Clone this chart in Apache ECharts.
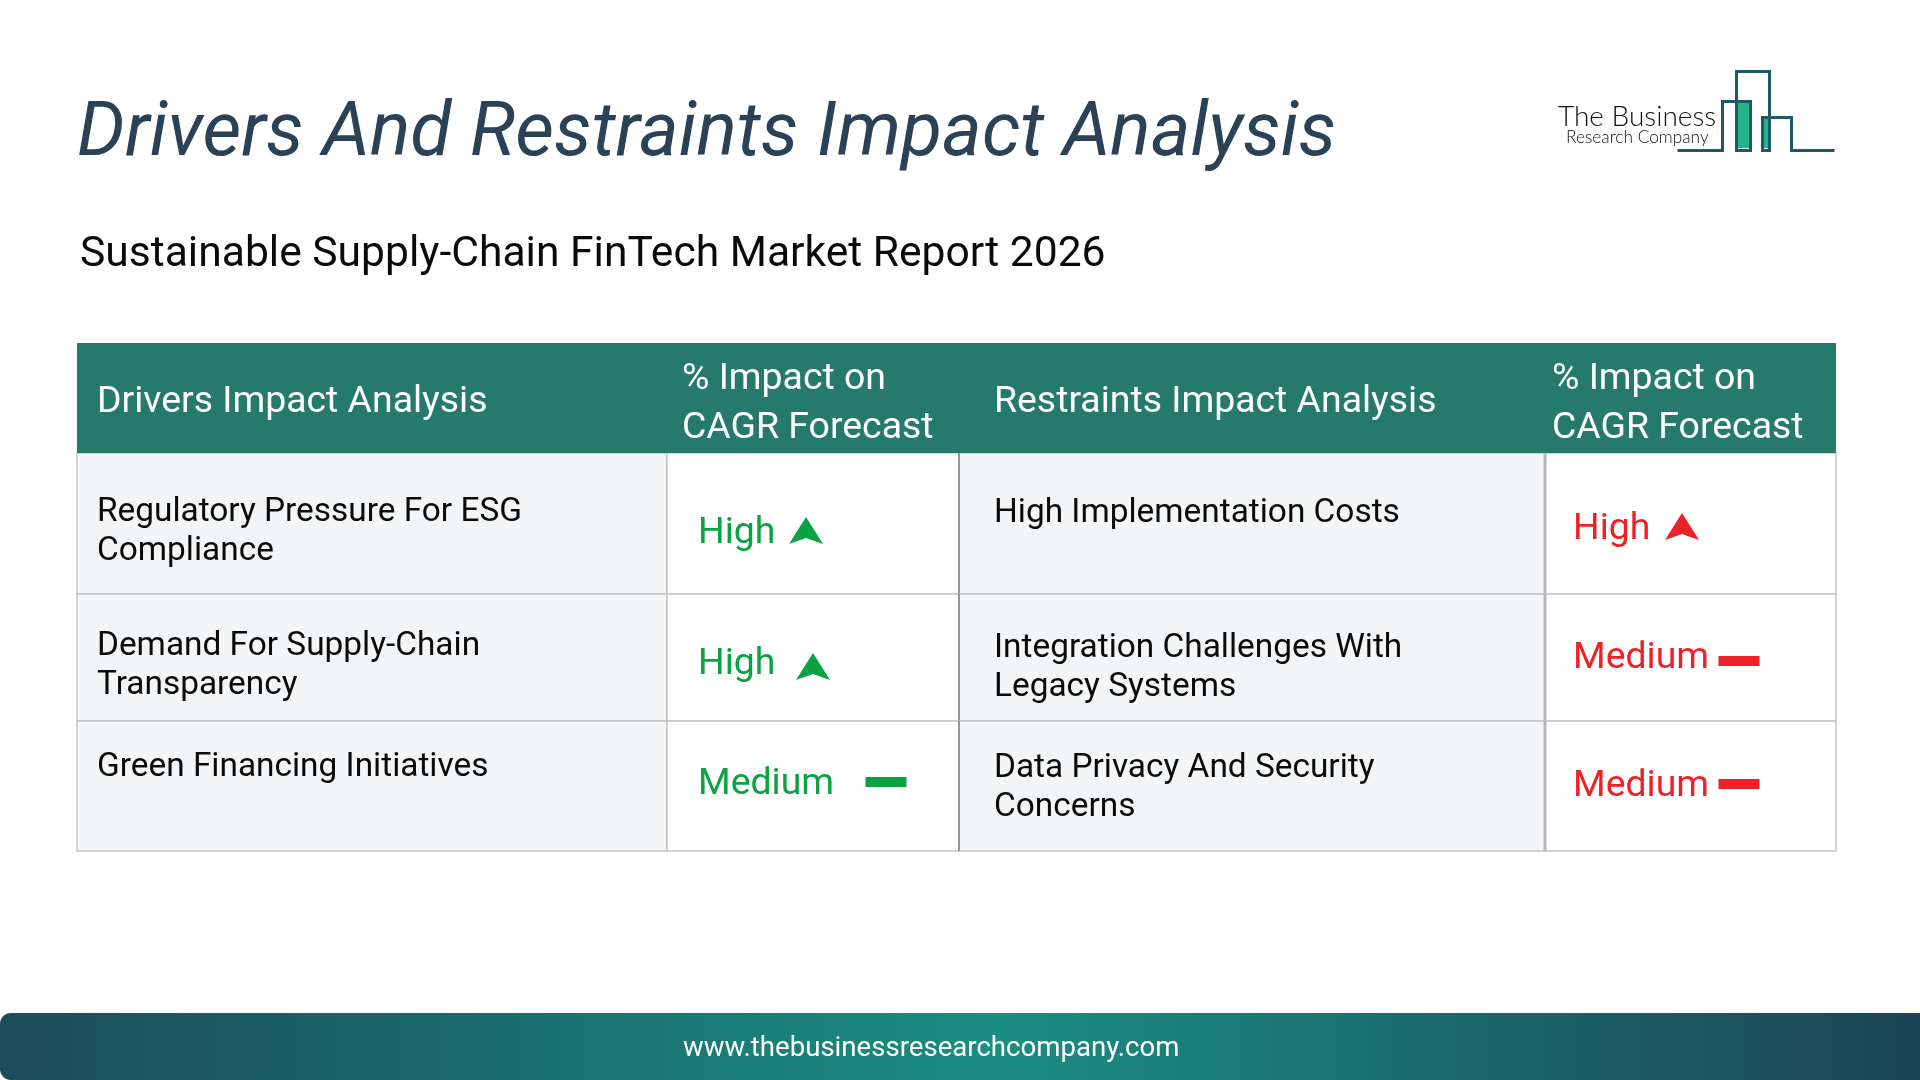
<!DOCTYPE html>
<html lang="en">
<head>
    <meta charset="UTF-8">
    <title>Drivers And Restraints Impact Analysis</title>
    <script src="https://cdn.jsdelivr.net/npm/echarts@6/dist/echarts.min.js"></script>
    <style>
        html, body { margin: 0; padding: 0; background: #fff; }
        #chartmain { width: 1920px; height: 1080px; }
    </style>
</head>
<body>
<div id="chartmain"></div>
<script type="text/javascript">
    // table content
    var headers = ['Drivers Impact Analysis', '% Impact on\nCAGR Forecast', 'Restraints Impact Analysis', '% Impact on\nCAGR Forecast'];
    var drivers = ['Regulatory Pressure For ESG\nCompliance', 'Demand For Supply-Chain\nTransparency', 'Green Financing Initiatives'];
    var driverImpact = ['High', 'High', 'Medium'];
    var restraints = ['High Implementation Costs', 'Integration Challenges With\nLegacy Systems', 'Data Privacy And Security\nConcerns'];
    var restraintImpact = ['High', 'Medium', 'Medium'];

    // table layout, in px from the table's top left corner
    var colEdges = [0, 590, 882, 1468, 1759];
    var rowEdges = [0, 110, 251, 378, 508];
    var textPad = [20, 31, 35, 28];
    var headerPad = [20, 15, 35, 7];
    var headerMid = [60, 61, 60, 61];
    var textMid = [[189, 323, 425], [191, 322, 442], [171, 325, 445], [187, 316, 444]];
    var markX = [[729, 736, 809], [1605, 1662, 1662]];
    var markY = [[188, 324, 439], [184, 318, 441]];

    var GREEN = '#0ba243', RED = '#ee2226';

    var cells = [];
    [drivers, driverImpact, restraints, restraintImpact].forEach(function (list, col) {
        list.forEach(function (txt, i) { cells.push({ col: col, row: i + 1, text: txt }); });
    });
    headers.forEach(function (txt, col) { cells.push({ col: col, row: 0, text: txt }); });

    function drawCell(params, api) {
        var c = cells[params.dataIndex];
        var a = api.coord([colEdges[c.col], rowEdges[c.row]]);
        var b = api.coord([colEdges[c.col + 1], rowEdges[c.row + 1]]);
        var kids = [];
        var isHead = c.row === 0;
        var isImpact = c.col % 2 === 1;
        kids.push({
            type: 'rect',
            shape: { x: a[0], y: a[1], width: b[0] - a[0], height: b[1] - a[1] },
            style: isHead ? { fill: '#257a6b' } : { fill: isImpact ? '#ffffff' : '#f3f5f7', stroke: '#c3c5c8', lineWidth: 1.5 }
        });
        if (!isHead && c.col === 2) {
            kids.push({ type: 'line', shape: { x1: a[0], y1: a[1], x2: a[0], y2: b[1] }, style: { stroke: '#7f8285', lineWidth: 1.5 } });
        }
        if (!isHead && c.col === 3) {
            kids.push({ type: 'line', shape: { x1: a[0], y1: a[1], x2: a[0], y2: b[1] }, style: { stroke: '#b4b6b9', lineWidth: 3 } });
        }
        var color = isHead ? '#ffffff' : (isImpact ? (c.col === 1 ? GREEN : RED) : '#0a0a0a');
        var midY = isHead ? headerMid[c.col] : textMid[c.col][c.row - 1];
        var pad = isHead ? headerPad[c.col] : textPad[c.col];
        var mid = api.coord([colEdges[c.col] + pad, midY]);
        kids.push({
            type: 'text',
            style: {
                x: mid[0], y: mid[1], text: c.text, fill: color,
                font: (isHead || isImpact ? 37.4 : 33.4) + 'px Roboto',
                lineHeight: isHead ? 49 : 39,
                textAlign: 'left', textVerticalAlign: 'middle'
            }
        });
        if (!isHead && isImpact) {
            var side = (c.col - 1) / 2;
            var m = api.coord([markX[side][c.row - 1], markY[side][c.row - 1]]);
            if (c.text === 'High') {
                kids.push({
                    type: 'polygon',
                    shape: { points: [[m[0], m[1] - 14], [m[0] + 17, m[1] + 13], [m[0], m[1] + 7], [m[0] - 17, m[1] + 13]] },
                    style: { fill: color }
                });
            } else {
                kids.push({ type: 'rect', shape: { x: m[0] - 20.5, y: m[1] - 5, width: 41, height: 10 }, style: { fill: color } });
            }
        }
        return { type: 'group', children: kids };
    }

    var option = {
        animation: false,
        backgroundColor: '#ffffff',
        title: [
            { text: 'Drivers And Restraints Impact Analysis', left: 77, top: 96, padding: 0,
              textStyle: { color: '#2b4156', fontFamily: 'Roboto', fontStyle: 'italic', fontWeight: 'normal', fontSize: 75.4, lineHeight: 80 } },
            { text: 'Sustainable Supply-Chain FinTech Market Report 2026', left: 80, top: 230, padding: 0,
              textStyle: { color: '#0a0a0a', fontFamily: 'Roboto', fontWeight: 'normal', fontSize: 42.6, lineHeight: 50 } }
        ],
        grid: { left: 77, top: 343, width: 1759, height: 508 },
        xAxis: { type: 'value', min: 0, max: 1759, show: false },
        yAxis: { type: 'value', min: 0, max: 508, inverse: true, show: false },
        series: [{
            type: 'custom',
            coordinateSystem: 'cartesian2d',
            silent: true,
            clip: false,
            data: cells.map(function (c) { return [colEdges[c.col], rowEdges[c.row]]; }),
            renderItem: drawCell
        }],
        graphic: [
            // footer band
            { type: 'rect', left: 0, top: 1013, shape: { width: 1920, height: 67, r: [11, 0, 0, 11] },
              style: { fill: { type: 'linear', x: 0, y: 0, x2: 1, y2: 0, colorStops: [
                  { offset: 0, color: '#1a4c5a' }, { offset: 0.52, color: '#1b8d82' }, { offset: 1, color: '#1a4455' }] } } },
            { type: 'text', left: 683, top: 1035, style: { text: 'www.thebusinessresearchcompany.com', fill: '#ffffff', font: '27.6px Roboto' } },
            // logo
            { type: 'rect', left: 1738, top: 100, shape: { width: 12, height: 48 }, style: { fill: '#22b585' } },
            { type: 'rect', left: 1762, top: 116, shape: { width: 7, height: 32 }, style: { fill: '#22b585' } },
            { type: 'polyline', left: 1675, top: 69, shape: { points: [[0, 79], [45, 79], [45, 30], [73, 30], [73, 79], [59, 79], [59, 0], [92, 0], [92, 79], [85, 79], [85, 46], [114, 46], [114, 79], [157, 79]] },
              style: { stroke: '#1e5a66', lineWidth: 3, fill: null } },
            { type: 'text', left: 1558, top: 103, style: { text: 'The Business', fill: '#111111', font: '300 28px Lato' } },
            { type: 'text', left: 1566, top: 129, style: { text: 'Research Company', fill: '#111111', font: '300 17.3px Lato' } }
        ]
    };

    var myChart = echarts.init(document.getElementById('chartmain'));
    myChart.setOption(option);
</script>
</body>
</html>
